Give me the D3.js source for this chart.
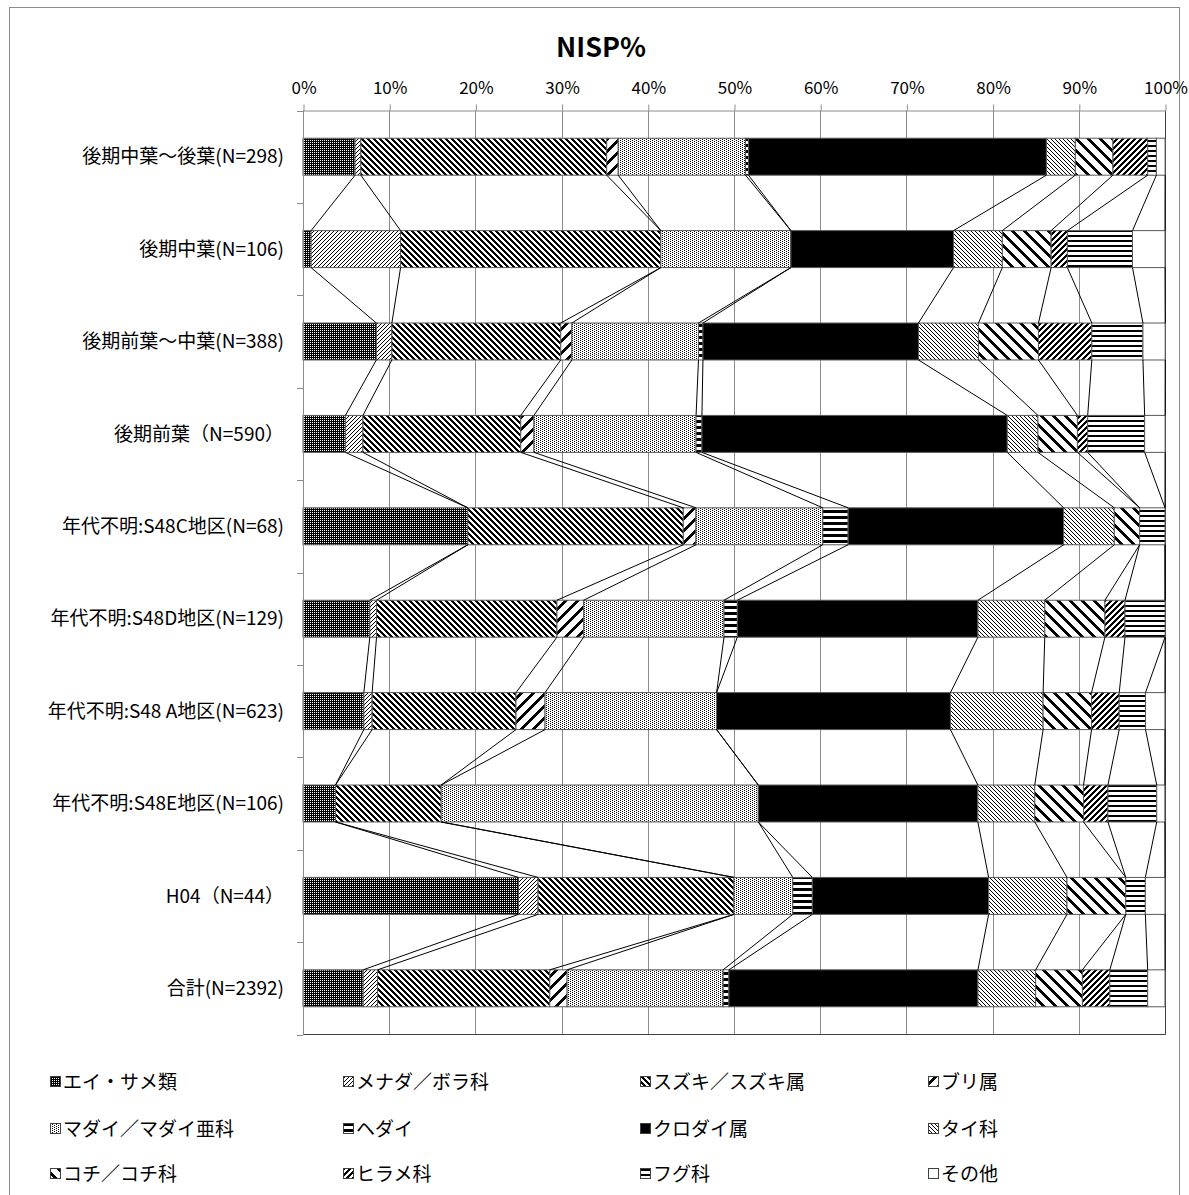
<!DOCTYPE html>
<html>
<head>
<meta charset="utf-8">
<script src="https://cdn.jsdelivr.net/npm/d3@7"></script>
<style>
  body { margin: 0; background: #fff; }
  text { font-family: "Noto Sans CJK JP", "Noto Sans", sans-serif; fill: #000; }
</style>
</head>
<body>
<svg id="chart" width="1189" height="1195"></svg>
<script>
// Site / period groups (top to bottom)
const categories = [
  "後期中葉～後葉(N=298)",
  "後期中葉(N=106)",
  "後期前葉～中葉(N=388)",
  "後期前葉（N=590）",
  "年代不明:S48C地区(N=68)",
  "年代不明:S48D地区(N=129)",
  "年代不明:S48 A地区(N=623)",
  "年代不明:S48E地区(N=106)",
  "H04（N=44）",
  "合計(N=2392)"
];

// Taxon shares of NISP (%), one value per group
const eiSame   = [6.04, 0.94, 8.51, 4.92, 19.12, 7.75, 7.06, 3.77, 25.00, 6.98];
const menada   = [0.67, 10.38, 1.80, 2.03, 0, 0.78, 0.96, 0, 2.27, 1.67];
const suzuki   = [28.52, 30.19, 19.59, 18.31, 25.00, 20.93, 16.69, 12.26, 22.73, 19.98];
const buri     = [1.34, 0, 1.29, 1.53, 1.47, 3.10, 3.37, 0, 0, 2.01];
const madai    = [14.77, 15.09, 14.69, 18.81, 14.71, 16.28, 19.90, 36.79, 6.82, 18.10];
const hedai    = [0.34, 0, 0.52, 0.68, 2.94, 1.55, 0, 0, 2.27, 0.67];
const kurodai  = [34.56, 18.87, 25.00, 35.42, 25.00, 27.91, 27.13, 25.47, 20.45, 28.89];
const taika    = [3.36, 5.66, 6.96, 3.56, 5.88, 7.75, 10.75, 6.60, 9.09, 6.69];
const kochi    = [4.36, 5.66, 6.96, 4.58, 2.94, 6.98, 5.62, 5.66, 6.82, 5.43];
const hirame   = [4.03, 1.89, 6.19, 1.19, 0, 2.33, 3.21, 2.83, 0, 3.18];
const fugu     = [1.01, 7.55, 5.93, 6.61, 2.94, 4.65, 3.05, 5.66, 2.27, 4.39];
const sonota   = [1.01, 3.77, 2.58, 2.37, 0, 0, 2.25, 0.94, 2.27, 2.01];

const seriesNames = [
  "エイ・サメ類", "メナダ／ボラ科", "スズキ／スズキ属", "ブリ属",
  "マダイ／マダイ亜科", "ヘダイ", "クロダイ属", "タイ科",
  "コチ／コチ科", "ヒラメ科", "フグ科", "その他"
];
const seriesValues = [eiSame, menada, suzuki, buri, madai, hedai, kurodai, taika, kochi, hirame, fugu, sonota];

const xTicks = [0, 10, 20, 30, 40, 50, 60, 70, 80, 90, 100];
const chartTitle = "NISP%";

// ---- fill patterns (pixel tiles) ----
const patternSpecs = [
  { w: 2, h: 2, on: (x, y) => !(x === 0 && y === 0) },            // dense dark dots
  { w: 4, h: 4, on: (x, y) => (x + y) % 4 === 0 },                 // light upward diagonal
  { w: 6, h: 6, on: (x, y) => ((x - y) % 6 + 6) % 6 < 3 },         // dark downward diagonal
  { w: 12, h: 12, on: (x, y) => (x + y) % 12 < 4 },                // wide upward diagonal
  { w: 4, h: 2, on: (x, y) => (x === 0 && y === 0) || (x === 2 && y === 1) }, // fine dots
  { w: 1, h: 6, on: (x, y) => y % 6 < 3 },                         // dark horizontal
  null,                                                            // solid black
  { w: 4, h: 4, on: (x, y) => ((x - y) % 4 + 4) % 4 === 0 },       // light downward diagonal
  { w: 12, h: 12, on: (x, y) => ((x - y) % 12 + 12) % 12 < 4 },    // wide downward diagonal
  { w: 6, h: 6, on: (x, y) => (x + y) % 6 < 3 },                   // dark upward diagonal
  { w: 1, h: 5, on: (x, y) => y % 5 < 2 },                         // narrow horizontal
  "white"
];

const svg = d3.select("#chart");
const defs = svg.append("defs");
const fills = patternSpecs.map((p, i) => {
  if (p === null) return "#000";
  if (p === "white") return "#fff";
  const id = "pat" + i;
  const pat = defs.append("pattern")
    .attr("id", id).attr("patternUnits", "userSpaceOnUse")
    .attr("width", p.w).attr("height", p.h);
  pat.append("rect").attr("width", p.w).attr("height", p.h).attr("fill", "#fff");
  for (let yy = 0; yy < p.h; yy++)
    for (let xx = 0; xx < p.w; xx++)
      if (p.on(xx, yy)) pat.append("rect").attr("x", xx).attr("y", yy)
        .attr("width", 1).attr("height", 1).attr("fill", "#000");
  return `url(#${id})`;
});

// ---- layout ----
const plot = { left: 303, right: 1165, top: 110.5, bottom: 1034.5 };

// outer frame
svg.append("rect").attr("x", 9.5).attr("y", 7.5).attr("width", 1170).attr("height", 1200)
  .attr("fill", "none").attr("stroke", "#8c8c8c").attr("stroke-width", 1);

svg.append("text").attr("x", 601).attr("y", 57).attr("text-anchor", "middle")
  .attr("font-size", 27).attr("font-weight", "bold").text(chartTitle);

const x = d3.scaleLinear().domain([0, 100]).range([plot.left, plot.right]);
const y = d3.scaleBand().domain(categories).range([plot.top, plot.bottom])
  .paddingInner(0.6).paddingOuter(0.3);

// table for stacking
const keys = seriesNames;
const table = categories.map((c, i) => {
  const row = { cat: c };
  keys.forEach((k, j) => row[k] = seriesValues[j][i]);
  return row;
});
const stacked = d3.stack().keys(keys)(table);

// vertical gridlines
svg.append("g").selectAll("line").data(xTicks).join("line")
  .attr("x1", d => Math.round(x(d)) + 0.5).attr("x2", d => Math.round(x(d)) + 0.5)
  .attr("y1", plot.top).attr("y2", plot.bottom)
  .attr("stroke", "#8c8c8c").attr("stroke-width", 1);

// plot area border (right / bottom)
svg.append("path")
  .attr("d", `M${Math.round(plot.right) + 0.5},${plot.top} V${plot.bottom} H${plot.left}`)
  .attr("fill", "none").attr("stroke", "#404040").attr("stroke-width", 1);

// bars
const bw = y.bandwidth();
svg.append("g").selectAll("g").data(stacked).join("g")
  .attr("fill", (d, i) => fills[i])
  .selectAll("rect").data(d => d.filter(s => s[1] - s[0] > 0)).join("rect")
  .attr("x", d => x(d[0])).attr("width", d => x(d[1]) - x(d[0]))
  .attr("y", d => y(d.data.cat)).attr("height", bw)
  .attr("stroke", "#595959").attr("stroke-width", 1);

// series lines between consecutive bars
const segs = [];
stacked.forEach(s => {
  for (let i = 0; i < s.length - 1; i++) {
    segs.push({
      x1: x(s[i][1]), y1: y(s[i].data.cat) + bw,
      x2: x(s[i + 1][1]), y2: y(s[i + 1].data.cat)
    });
  }
});
svg.append("g").selectAll("line").data(segs).join("line")
  .attr("x1", d => d.x1).attr("y1", d => d.y1).attr("x2", d => d.x2).attr("y2", d => d.y2)
  .attr("stroke", "#000").attr("stroke-width", 1);

// value axis on top
const topAxis = svg.append("g").attr("transform", `translate(0.5,${plot.top})`)
  .call(d3.axisTop(x).tickValues(xTicks).tickFormat(d => d + "%").tickSize(6).tickSizeOuter(0));
topAxis.select(".domain").attr("stroke", "#8c8c8c");
topAxis.selectAll(".tick line").attr("stroke", "#8c8c8c");
topAxis.selectAll(".tick text").attr("font-size", 17).attr("dy", "-0.45em")
  .attr("font-family", "'Noto Sans CJK JP', sans-serif").attr("fill", "#000");

// category axis on left
const step = y.step();
const bounds = d3.range(categories.length + 1).map(i => plot.top + i * step);
svg.append("line").attr("x1", plot.left + 0.5).attr("x2", plot.left + 0.5)
  .attr("y1", plot.top).attr("y2", plot.bottom).attr("stroke", "#8c8c8c");
svg.append("g").selectAll("line").data(bounds).join("line")
  .attr("x1", plot.left - 6).attr("x2", plot.left)
  .attr("y1", d => Math.round(d) + 0.5).attr("y2", d => Math.round(d) + 0.5)
  .attr("stroke", "#8c8c8c");
svg.append("g").selectAll("text").data(categories).join("text")
  .attr("x", 284).attr("y", d => y(d) + bw / 2).attr("dy", "0.35em")
  .attr("text-anchor", "end").attr("font-size", 19).text(d => d);

// legend
const legCols = [50, 343, 640, 928];
const legRows = [1082, 1129, 1174];
const leg = svg.append("g").selectAll("g").data(seriesNames).join("g")
  .attr("transform", (d, i) => `translate(${legCols[i % 4]},${legRows[Math.floor(i / 4)]})`);
leg.append("rect").attr("x", 0.5).attr("y", -5.5).attr("width", 10).attr("height", 10)
  .attr("fill", (d, i) => fills[i]).attr("stroke", "#404040").attr("stroke-width", 1);
leg.append("text").attr("x", 13).attr("y", 0).attr("dy", "0.36em")
  .attr("font-size", 19).text(d => d);
</script>
</body>
</html>
